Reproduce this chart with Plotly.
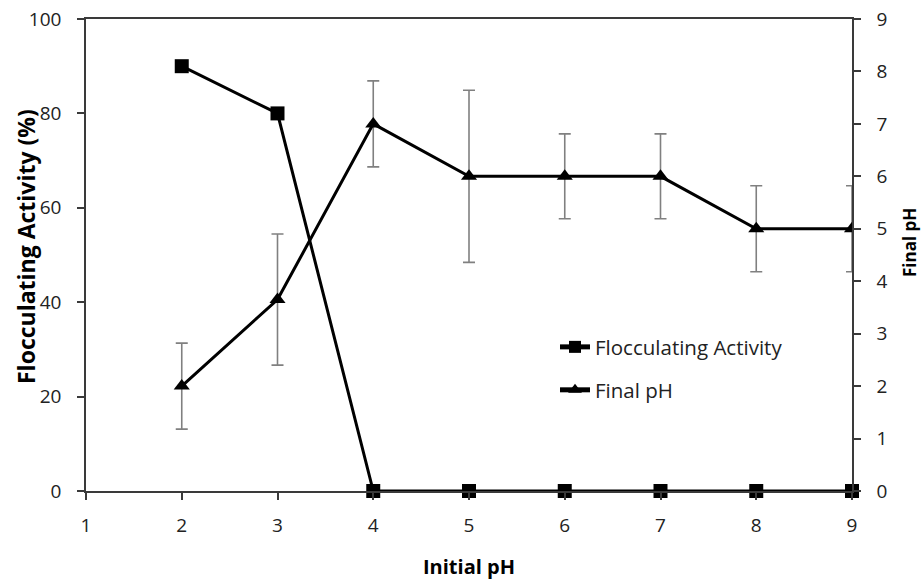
import plotly.graph_objects as go

initial_ph = [2, 3, 4, 5, 6, 7, 8, 9]
flocculating_activity = [90, 80, 0, 0, 0, 0, 0, 0]
final_ph = [2.0, 3.65, 7.0, 6.0, 6.0, 6.0, 5.0, 5.0]
final_ph_err = [0.82, 1.25, 0.82, 1.64, 0.81, 0.81, 0.82, 0.82]

x_ticks = [1, 2, 3, 4, 5, 6, 7, 8, 9]
left_ticks = [0, 20, 40, 60, 80, 100]
right_ticks = [0, 1, 2, 3, 4, 5, 6, 7, 8, 9]

FONT = "Open Sans"

fig = go.Figure()
fig.add_trace(go.Scatter(
    x=initial_ph, y=final_ph, name="Final pH", yaxis="y2",
    mode="lines+markers",
    line=dict(color="black", width=3),
    marker=dict(symbol="triangle-up", size=14, color="black"),
    error_y=dict(type="data", array=final_ph_err, visible=True,
                 color="#808080", thickness=1.6, width=6),
    legend="legend2",
))
fig.add_trace(go.Scatter(
    x=initial_ph, y=flocculating_activity, name="Flocculating Activity",
    mode="lines+markers",
    line=dict(color="black", width=3),
    marker=dict(symbol="square", size=14, color="black"),
    cliponaxis=False,
    legend="legend",
))

axis_common = dict(showgrid=False, zeroline=False, showline=True,
                   linecolor="#3a3a3a", linewidth=1.5, ticks="outside",
                   ticklen=7, tickcolor="#3a3a3a", tickwidth=1.5,
                   automargin=False,
                   tickfont=dict(family=FONT, size=19, color="#222222"))

legend_common = dict(xanchor="left", yanchor="middle", bgcolor="rgba(0,0,0,0)",
                     font=dict(family=FONT, size=20.5, color="#222222"),
                     itemsizing="constant")

title_font = dict(family=FONT, color="black")

fig.update_layout(
    width=922, height=580,
    margin=dict(l=86, r=70, t=19, b=89),
    plot_bgcolor="white", paper_bgcolor="white",
    font=dict(family=FONT, color="black"),
    xaxis=dict(range=[1, 9], tickvals=x_ticks, mirror=True, ticklabelstandoff=9,
               **axis_common),
    yaxis=dict(range=[0, 100], tickvals=left_ticks, ticklabelstandoff=12,
               **axis_common),
    yaxis2=dict(range=[0, 9], tickvals=right_ticks, overlaying="y", side="right",
                ticklabelstandoff=12, **axis_common),
    legend=dict(x=0.6123, y=0.305, **legend_common),
    legend2=dict(x=0.6123, y=0.214, **legend_common),
    showlegend=True,
    annotations=[
        dict(text="<b>Flocculating Activity (%)</b>", xref="paper", yref="paper",
             x=-0.0783, y=0.517, xanchor="center", yanchor="middle",
             textangle=-90, showarrow=False, font=dict(size=23, **title_font)),
        dict(text="<b>Final pH</b>", xref="paper", yref="paper",
             x=1.0744, y=0.5275, xanchor="center", yanchor="middle",
             textangle=-90, showarrow=False, font=dict(size=17, **title_font)),
        dict(text="<b>Initial pH</b>", xref="paper", yref="paper",
             x=0.5, y=-0.161, xanchor="center", yanchor="middle",
             showarrow=False, font=dict(size=20, **title_font)),
    ],
)

fig.write_html("out.html", config={"displayModeBar": False},
               post_script="document.body.style.margin='0';")
